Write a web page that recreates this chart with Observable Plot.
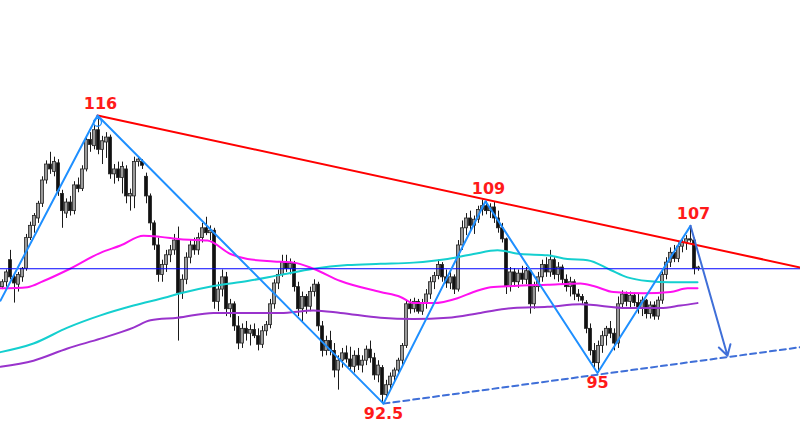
<!DOCTYPE html>
<html>
<head>
<meta charset="utf-8">
<script src="https://cdn.jsdelivr.net/npm/d3@7"></script>
<script src="https://cdn.jsdelivr.net/npm/@observablehq/plot@0.6"></script>
<style>
  html, body { margin: 0; padding: 0; background: #fff; }
  #chart svg { display: block; }
</style>
</head>
<body>
<div id="chart"></div>
<script>
// Candles (price units), index i = candle number
const opens = [102.0,102.4,104.2,102.8,102.2,102.8,103.5,106.0,107.0,107.6,
108.8,110.7,112.0,111.4,112.1,109.6,108.0,108.9,108.2,110.3,
110.0,111.6,114.0,113.5,114.8,113.2,113.8,114.2,111.2,111.6,
110.9,111.6,109.4,109.4,112.2,112.2,111.0,109.4,107.2,105.4,
103.0,103.8,104.6,105.0,105.8,101.5,102.6,104.4,105.4,105.0,
106.0,106.8,106.4,106.6,100.8,101.8,102.8,100.2,100.6,98.8,
97.4,98.6,98.2,98.5,98.0,97.3,98.4,98.9,100.6,102.3,
103.0,104.0,103.5,103.9,102.0,100.2,101.2,100.4,101.6,102.2,
98.8,96.8,97.6,96.8,95.2,96.0,96.6,96.1,95.5,96.4,
95.6,96.0,96.9,96.2,94.8,95.4,93.2,94.0,94.7,95.2,
96.0,97.2,100.6,100.2,100.8,100.0,100.7,101.4,102.4,102.9,
103.8,102.8,102.3,102.8,101.8,105.4,106.8,107.6,107.0,107.5,
108.3,108.6,108.2,108.5,107.6,106.8,105.9,102.0,103.2,102.4,
103.1,102.6,103.3,100.6,102.0,102.8,103.8,103.2,104.2,103.0,
103.6,102.6,102.0,102.4,101.4,101.2,100.7,98.6,96.8,95.8,
97.2,98.0,98.6,98.2,97.4,100.6,101.4,100.8,101.3,100.7,
100.3,100.9,99.8,100.5,99.6,100.9,103.0,104.0,104.8,104.3,
105.3,105.6,105.9,105.8,103.5];
const highs = [102.6,103.4,105.0,103.0,103.2,103.6,106.3,107.3,108.0,109.0,
111.0,112.3,113.0,112.6,112.4,109.9,109.2,109.4,110.6,110.9,
111.9,114.3,114.6,115.2,116.0,114.3,114.6,114.4,112.0,112.2,
112.2,111.9,110.0,112.6,112.6,112.4,111.3,109.6,107.4,106.0,
104.2,105.0,105.4,106.3,106.9,103.0,104.8,105.8,106.0,106.4,
107.2,107.7,107.0,106.8,102.4,103.4,103.2,101.0,100.8,99.6,
99.0,99.2,98.9,99.0,98.6,98.8,99.2,101.0,102.6,103.4,
104.6,104.6,104.3,104.1,102.4,101.6,101.4,102.0,102.6,102.4,
99.2,98.0,98.4,97.4,96.4,97.0,97.2,97.1,96.8,97.0,
96.4,97.2,97.6,96.6,96.0,95.6,94.4,95.0,95.4,96.2,
97.4,100.9,101.0,101.1,101.0,101.0,101.8,102.8,103.2,104.2,
104.0,103.4,103.2,103.0,105.8,107.4,108.0,108.2,107.8,108.6,
109.1,109.0,108.8,108.9,108.2,107.2,106.0,103.6,103.5,103.4,
103.7,103.6,103.4,102.4,103.2,104.2,104.4,105.0,104.4,104.0,
103.8,103.0,102.8,102.6,101.8,101.4,100.9,99.0,97.4,97.6,
98.4,98.8,99.2,98.6,101.2,101.7,101.6,101.6,101.5,101.4,
101.2,101.0,100.8,100.8,101.2,103.4,104.4,105.2,105.4,105.6,
106.0,106.2,107.0,106.0,103.7];
const lows = [101.8,102.0,102.6,100.7,101.6,102.4,103.3,105.8,106.4,107.2,
108.5,110.4,111.2,111.0,109.4,106.8,107.6,107.8,107.9,109.7,
109.8,111.4,113.0,113.2,112.8,112.0,112.5,110.8,110.4,110.6,
109.6,108.8,108.2,108.4,111.8,111.6,108.8,106.6,105.0,102.4,
102.4,103.2,104.0,104.6,97.6,101.0,102.2,103.9,104.6,104.6,
105.6,106.2,105.8,100.2,100.0,101.2,99.6,99.5,98.4,96.9,
97.0,97.6,97.2,97.8,96.8,97.0,98.0,98.6,100.2,101.8,
102.8,103.2,103.0,101.6,99.6,99.2,99.8,100.0,101.2,98.4,
96.3,96.4,96.4,94.6,93.6,95.4,95.8,95.2,95.0,95.2,
95.0,95.6,95.8,94.4,94.2,92.5,92.9,93.6,94.2,94.8,
95.6,97.0,99.8,99.9,99.8,99.7,100.2,101.0,101.8,102.6,
102.4,101.9,101.8,101.4,101.6,105.0,106.2,106.6,106.3,107.2,
107.8,107.9,107.6,107.2,106.4,105.6,101.4,101.6,102.0,101.9,
102.2,102.2,99.8,100.2,101.6,102.4,102.8,102.8,102.6,102.4,
102.2,101.6,101.2,100.9,100.8,100.6,98.2,96.4,95.4,95.0,
96.6,97.2,97.8,96.8,97.0,100.2,100.4,100.2,100.4,99.8,
99.6,99.4,99.4,99.3,99.3,100.6,102.6,103.6,104.0,104.0,
104.8,105.0,105.6,103.0,103.3];
const closes = [102.4,103.2,102.8,102.3,103.0,103.5,106.0,107.0,107.8,108.8,
110.7,112.0,111.6,112.2,109.8,108.2,108.9,108.2,110.3,110.0,
111.6,114.0,113.6,114.8,113.2,113.9,114.2,111.2,111.6,110.9,
111.8,109.4,109.6,112.2,112.4,111.9,109.4,107.2,105.4,103.0,
103.8,104.6,105.0,105.8,101.5,102.6,104.4,105.4,105.0,106.0,
106.8,106.4,106.6,100.8,101.8,102.8,100.2,100.6,98.8,97.4,
98.6,98.2,98.5,98.0,97.3,98.4,98.9,100.6,102.3,103.0,
104.0,103.5,103.9,102.0,100.2,101.2,100.4,101.6,102.2,98.8,
96.8,97.6,96.8,95.2,96.0,96.6,96.1,95.5,96.4,95.6,
96.0,96.9,96.2,94.8,95.6,93.2,94.0,94.7,95.2,96.0,
97.2,100.6,100.2,100.8,100.0,100.7,101.4,102.4,102.9,103.8,
102.8,102.3,102.8,101.8,105.4,106.8,107.6,107.0,107.5,108.3,
108.6,108.2,108.5,107.6,106.8,105.9,102.0,103.2,102.4,103.1,
102.6,103.3,100.6,102.0,102.8,103.8,103.2,104.2,103.0,103.6,
102.6,102.0,102.4,101.4,101.2,100.9,98.6,96.8,95.8,97.2,
98.0,98.6,98.2,97.4,100.6,101.4,100.8,101.3,100.7,100.3,
100.9,99.8,100.5,99.6,100.9,103.0,104.0,104.8,104.3,105.3,
105.6,105.9,105.8,103.5,103.6];

// Moving averages: x in candle units, y in price
const magentaX = [0,6.75,10.75,16.75,25,30,35.75,40,45,51.75,57.5,61.75,68.25,73.25,78.25,85,95,100,103.25,108.25,114.25,118.25,122.5,128.25,136.75,145,148.25,153.25,160.75,167.5,171.75,174.25];
const magentaY = [101.9,102.0,102.5,103.4,104.8,105.4,106.2,106.1,105.9,105.8,104.7,104.3,104.1,104.0,103.5,102.5,101.6,101.2,100.7,100.7,101.1,101.6,102.0,102.1,102.2,102.3,102.1,101.6,101.5,101.6,101.9,101.9];
const cyanX = [0,8.25,16.75,25,33.25,41.75,45,53.25,61.75,70,78.25,86.75,95,103.25,111.75,118.25,124.25,130,136.75,141.75,146.75,152.5,156.75,161.75,167.5,174.25];
const cyanY = [96.7,97.4,98.7,99.7,100.5,101.2,101.5,102.1,102.5,103.0,103.5,103.8,103.9,104.0,104.3,104.7,105.0,104.7,104.6,104.3,104.2,103.4,102.8,102.5,102.4,102.4];
const purpleX = [0,8.25,16.75,25,33.25,37.5,44.25,53.25,61.75,70,78.25,85,95,103.25,111.75,120,128.25,136.75,145,156.75,165,170,174.25];
const purpleY = [95.5,96.0,97.0,97.8,98.7,99.3,99.5,99.9,99.9,99.9,100.1,99.9,99.5,99.4,99.5,99.9,100.3,100.4,100.6,100.3,100.3,100.5,100.7];

// Zigzag swing points
const zigX = [0,24.25,95.75,121.25,149.25,172.5];
const zigY = [100.9,116,92.5,109,95,107];
// Projection arrow
const arrowFrom = [172.5, 107];
const arrowTo = [181.75, 96.4];
// Resistance (red) and support (dashed) trend lines
const resistX = [24.25, 200];
const resistY = [116, 103.6];
const supportX = [95.75, 200];
const supportY = [92.5, 97.1];
// Horizontal level
const level = 103.5;
// Swing labels
const topLabels = ["116", "109", "107"];
const topX = [24.25, 121.25, 172.5];
const topY = [116, 109, 107];
const bottomLabels = ["92.5", "95"];
const bottomX = [95.75, 149.25];
const bottomY = [92.5, 95];

const candles = closes.map((c, i) => ({i, o: opens[i], h: highs[i], l: lows[i], c}));
const pts = (xs, ys) => xs.map((x, k) => ({x, y: ys[k]}));

const chart = Plot.plot({
  width: 800,
  height: 422,
  marginTop: 0, marginBottom: 0, marginLeft: 0, marginRight: 0,
  x: {domain: [0, 200], axis: null},
  y: {domain: [90.96, 125.38], axis: null},
  style: {background: "#fff"},
  marks: [
    Plot.ruleX(candles, {x: d => d.i + 0.5, y1: "l", y2: "h", stroke: "#1a1a1a", strokeWidth: 1}),
    Plot.rect(candles, {x1: d => d.i + 0.12, x2: d => d.i + 0.88, y1: "o", y2: "c",
      fill: d => d.c >= d.o ? "#9a9a9a" : "#111", stroke: "#222", strokeWidth: 0.8}),
    Plot.line(pts(purpleX, purpleY), {x: "x", y: "y", stroke: "#9933cc", strokeWidth: 2, curve: "monotone-x"}),
    Plot.line(pts(cyanX, cyanY), {x: "x", y: "y", stroke: "#14cfcf", strokeWidth: 2, curve: "monotone-x"}),
    Plot.line(pts(magentaX, magentaY), {x: "x", y: "y", stroke: "#ff10f0", strokeWidth: 2, curve: "monotone-x"}),
    Plot.ruleY([level], {stroke: "#0000ff", strokeWidth: 1}),
    Plot.line(pts(resistX, resistY), {x: "x", y: "y", stroke: "#ff0000", strokeWidth: 2}),
    Plot.line(pts(supportX, supportY), {x: "x", y: "y", stroke: "#3f6fd8", strokeWidth: 2, strokeDasharray: "6,4"}),
    Plot.line(pts(zigX, zigY), {x: "x", y: "y", stroke: "#1e8fff", strokeWidth: 2}),
    Plot.arrow([{x1: arrowFrom[0], y1: arrowFrom[1], x2: arrowTo[0], y2: arrowTo[1]}],
      {x1: "x1", y1: "y1", x2: "x2", y2: "y2", stroke: "#3f6fd8", strokeWidth: 2, headLength: 9}),
    Plot.dot([{x: zigX[1], y: zigY[1] - 0.55}], {x: "x", y: "y", r: 4, stroke: "#1e8fff", strokeWidth: 1.3, fill: "none"}),
    Plot.text(topLabels.map((t, k) => ({t, x: topX[k], y: topY[k]})),
      {x: "x", y: "y", text: "t", dy: -12, dx: 3, fill: "#ff1a1a", fontSize: 16, fontWeight: "bold",
       fontFamily: "DejaVu Sans", lineAnchor: "middle"}),
    Plot.text(bottomLabels.map((t, k) => ({t, x: bottomX[k], y: bottomY[k]})),
      {x: "x", y: "y", text: "t", dy: 10, fill: "#ff1a1a", fontSize: 16, fontWeight: "bold",
       fontFamily: "DejaVu Sans", lineAnchor: "middle"})
  ]
});
document.getElementById("chart").appendChild(chart);
</script>
</body>
</html>
